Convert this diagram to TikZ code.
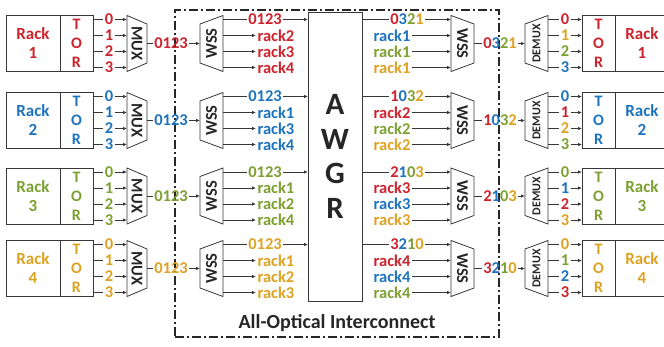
\documentclass[tikz,border=0pt]{standalone}
\usepackage{fontspec}
\setsansfont{Carlito}
\usepackage{xcolor}
\definecolor{col1}{RGB}{205,35,45}
\definecolor{col2}{RGB}{30,115,190}
\definecolor{col3}{RGB}{125,160,50}
\definecolor{col4}{RGB}{222,162,35}
\definecolor{linegray}{RGB}{55,55,55}
\usepackage{tikz}
\usetikzlibrary{calc}
\usetikzlibrary{positioning}
\usetikzlibrary{arrows.meta}
\newcommand{\lams}[4]{\textcolor{col1}{#1}\textcolor{col2}{#2}\textcolor{col3}{#3}\textcolor{col4}{#4}}

\begin{document}
\begin{tikzpicture}[x=1pt, y=-1pt, color=linegray, line width=0.8pt,
			every node/.style={font=\sffamily\bfseries, outer sep=0pt},
			rackbox/.style={draw, minimum width=54pt, minimum height=56pt, inner sep=0pt, align=center,
				font=\sffamily\bfseries\fontsize{17}{19}\selectfont},
			torbox/.style={draw, minimum width=33pt, minimum height=56pt, inner sep=0pt, align=center,
				font=\sffamily\bfseries\fontsize{16}{19}\selectfont},
			trap/.style={minimum width=23pt, minimum height=56pt, inner sep=0pt, text=black!85,
				font=\sffamily\bfseries\fontsize{16.5}{16.5}\selectfont},
			num/.style={inner sep=1.5pt, font=\sffamily\bfseries\fontsize{16.5}{16.5}\selectfont},
			arr/.style={-{Latex[length=4pt,width=3.5pt]}},
			dashdot/.style={line width=1.3pt, color=black!85, dash pattern=on 9pt off 3pt on 2pt off 3pt},
			]
			\useasboundingbox (0,0) rectangle (664,346);
			\node [draw, dashdot, minimum width=324pt, minimum height=327pt] (ocs) at (337,173.5) {};
			\node [font=\sffamily\bfseries\fontsize{20}{20}\selectfont, text=black!85] (ocslabel) at (337,323) {All-Optical Interconnect};
			\node [draw, minimum width=54pt, minimum height=289pt, align=center, text=black!85,
				font=\sffamily\bfseries\fontsize{31}{34.5}\selectfont] (awgr) at (335,156.5) {A\\W\\G\\R};
			
			\foreach \r/\y/\lam in {1/43.5/\lams0321, 2/120.5/\lams1032, 3/196/\lams2103, 4/268.5/\lams3210} {
				% sending side
				\node [rackbox, text=col\r] (rackL\r) at (33,\y) {Rack\\\r};
				\node [torbox, text=col\r, right=0pt of rackL\r] (torL\r) {T\\O\\R};
				\node [trap, minimum width=20pt] (mux\r) at (137,\y) {\rotatebox{-90}{MUX}};
				\draw (mux\r.north west) -- (mux\r.south west) -- ([yshift=8.5pt]mux\r.south east) -- ([yshift=-8.5pt]mux\r.north east) -- cycle;
				\foreach \p in {0,...,3} {
					\node [num, text=col\r] (lp\r\p) at (109,\y-24+16*\p) {\p};
					\draw (torL\r.east |- lp\r\p) -- (lp\r\p);
					\draw [arr] (lp\r\p) -- (mux\r.west |- lp\r\p);
				}
				\node [trap] (wssL\r) at (211.5,\y) {\rotatebox{90}{WSS}};
				\draw ([yshift=-8.5pt]wssL\r.north west) -- ([yshift=8.5pt]wssL\r.south west) -- (wssL\r.south east) -- (wssL\r.north east) -- cycle;
				\node [num, text=col\r] (mw\r) at (171,\y) {0123};
				\draw (mux\r.east) -- (mw\r);
				\draw [arr] (mw\r) -- (wssL\r.west);
				\node [num, text=col\r] (wo\r) at (265,\y-24) {0123};
				\draw (wssL\r.east |- wo\r) -- (wo\r);
				\draw [arr] (wo\r) -- (awgr.west |- wo\r);
				% receiving side
				\node [trap] (wssR\r) at (462.5,\y) {\rotatebox{-90}{WSS}};
				\draw (wssR\r.north west) -- (wssR\r.south west) -- ([yshift=8.5pt]wssR\r.south east) -- ([yshift=-8.5pt]wssR\r.north east) -- cycle;
				\node [num] (ri\r) at (407,\y-24) {\lam};
				\draw (awgr.east |- ri\r) -- (ri\r);
				\draw [arr] (ri\r) -- (wssR\r.west |- ri\r);
				\foreach \k in {1,...,4} {
					\ifnum\k=\r\else
						\pgfmathtruncatemacro\s{\k-(\k>\r)}
						\node [num, text=col\r, anchor=west] (ls\r\k) at (256,\y-24+16*\s) {rack\k};
						\draw [arr] (wssL\r.east |- ls\r\k) -- (ls\r\k.west);
						\node [num, text=col\k, anchor=east] (rs\r\k) at (412,\y-24+16*\s) {rack\r};
						\draw [arr] (rs\r\k.east) -- (wssR\r.west |- rs\r\k);
					\fi
				}
				\node [trap, font=\sffamily\bfseries\fontsize{12}{12}\selectfont] (dmx\r) at (536.5,\y) {\rotatebox{90}{DEMUX}};
				\draw ([yshift=-8.5pt]dmx\r.north west) -- ([yshift=8.5pt]dmx\r.south west) -- (dmx\r.south east) -- (dmx\r.north east) -- cycle;
				\node [num] (ro\r) at (500,\y) {\lam};
				\draw (wssR\r.east) -- (ro\r);
				\draw [arr] (ro\r) -- (dmx\r.west);
				\node [torbox, text=col\r] (torR\r) at (598.5,\y) {T\\O\\R};
				\node [rackbox, text=col\r, right=0pt of torR\r] (rackR\r) {Rack\\\r};
				\foreach \p in {0,...,3} {
					\pgfmathtruncatemacro\pc{mod(\r-\p+3,4)+1}
					\node [num, text=col\pc] (rp\r\p) at (565,\y-24+16*\p) {\p};
					\draw (dmx\r.east |- rp\r\p) -- (rp\r\p);
					\draw [arr] (rp\r\p) -- (torR\r.west |- rp\r\p);
				}
			}
			
		\end{tikzpicture}
\end{document}
